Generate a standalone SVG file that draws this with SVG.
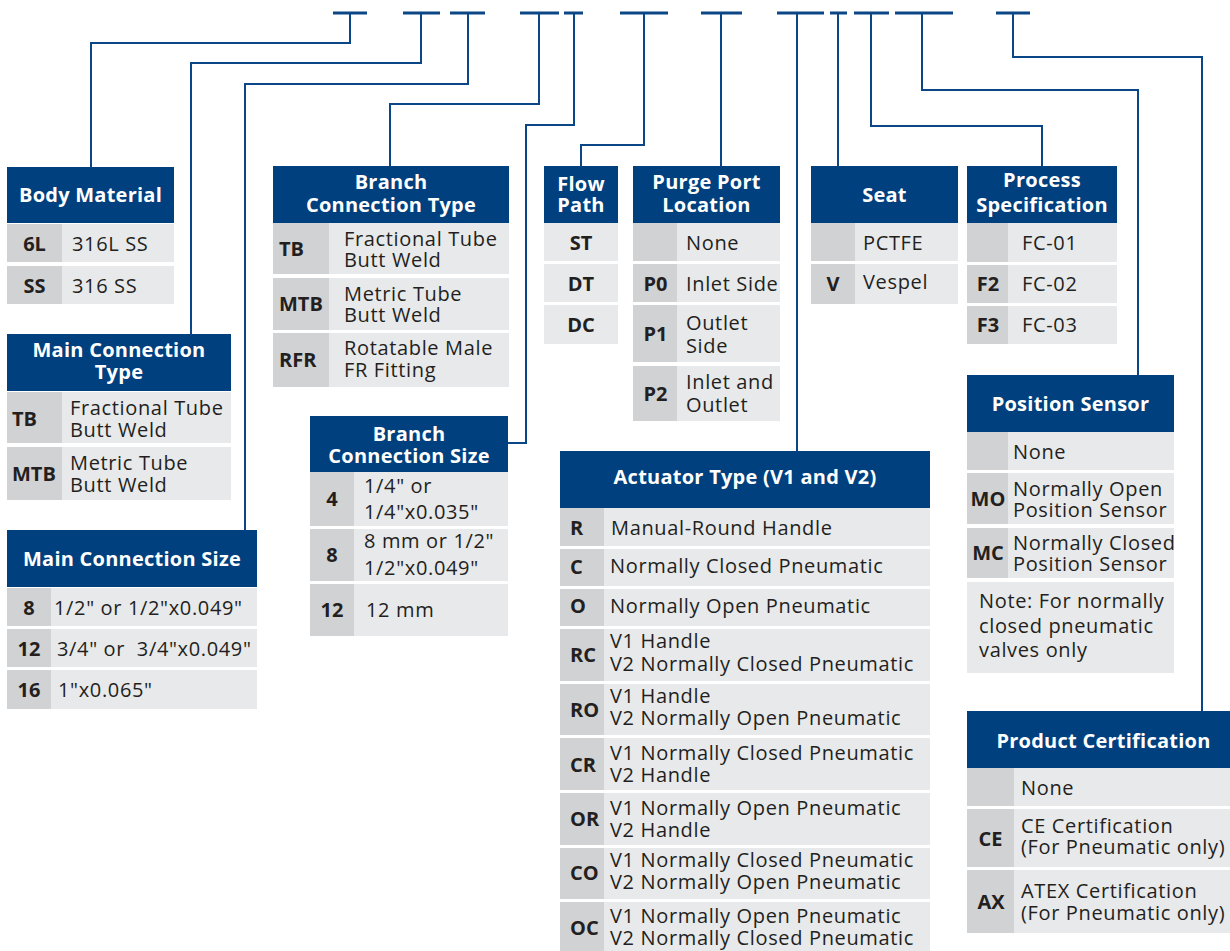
<svg xmlns="http://www.w3.org/2000/svg" width="1230" height="951" viewBox="0 0 1230 951">
<style>
.hd{fill:#00407e}
.kc{fill:#d1d2d4}
.vc{fill:#e8e9eb}
text{font-family:"Open Sans","Noto Sans","DejaVu Sans",sans-serif;font-size:20px}
.h{font-weight:bold;fill:#ffffff;text-anchor:middle;letter-spacing:0.25px}
.k{font-weight:bold;fill:#231f20}
.m{text-anchor:middle}
.v{fill:#231f20;letter-spacing:0.65px}
.ln{fill:none;stroke:#0b4686;stroke-width:2}
.bar{fill:none;stroke:#0b4686;stroke-width:3}
</style>
<rect width="1230" height="951" fill="#ffffff"/>
<g id="connectors">
<path class="bar" d="M333,13H367M403,13H440M450,13H485M520,13H559M564,13H583M620,13H668M701,13H742M777,13H824M830,13H847M854,13H889M895,13H953M996,13H1030"/>
<path class="ln" d="M350,13V43H91V167"/>
<path class="ln" d="M421,13V63H191V334"/>
<path class="ln" d="M468,13V84H245V530"/>
<path class="ln" d="M539,13V104H390V166"/>
<path class="ln" d="M574,13V125H526V443H508"/>
<path class="ln" d="M644,13V145H581V166"/>
<path class="ln" d="M721,13V166"/>
<path class="ln" d="M797,13V451"/>
<path class="ln" d="M838,13V166"/>
<path class="ln" d="M871,13V126H1042V166"/>
<path class="ln" d="M922,13V90H1138V375"/>
<path class="ln" d="M1013,13V57H1202V711"/>
</g>
<g id="body-material">
<rect class="hd" x="7" y="167" width="167" height="56"/>
<text class="h" x="90.5" y="202">Body Material</text>
<rect class="kc" x="7" y="224" width="55" height="38"/><rect class="vc" x="62" y="224" width="112" height="38"/>
<rect class="kc" x="7" y="266" width="55" height="38"/><rect class="vc" x="62" y="266" width="112" height="38"/>
<text class="k m" x="34.5" y="251">6L</text><text class="v" x="72" y="251">316L SS</text>
<text class="k m" x="34.5" y="293">SS</text><text class="v" x="72" y="293">316 SS</text>
</g>
<g id="main-connection-type">
<rect class="hd" x="7" y="334" width="224" height="57"/>
<text class="h" x="119" y="357">Main Connection</text>
<text class="h" x="119" y="379">Type</text>
<rect class="kc" x="7" y="392" width="55" height="51"/><rect class="vc" x="62" y="392" width="169" height="51"/>
<rect class="kc" x="7" y="447" width="55" height="53"/><rect class="vc" x="62" y="447" width="169" height="53"/>
<text class="k" x="12" y="426">TB</text>
<text class="v" x="70" y="415">Fractional Tube</text><text class="v" x="70" y="437">Butt Weld</text>
<text class="k" x="12" y="481">MTB</text>
<text class="v" x="70" y="470">Metric Tube</text><text class="v" x="70" y="492">Butt Weld</text>
</g>
<g id="main-connection-size">
<rect class="hd" x="7" y="530" width="250" height="57"/>
<text class="h" x="132" y="566">Main Connection Size</text>
<rect class="kc" x="7" y="588" width="44" height="38"/><rect class="vc" x="51" y="588" width="206" height="38"/>
<rect class="kc" x="7" y="629" width="44" height="38"/><rect class="vc" x="51" y="629" width="206" height="38"/>
<rect class="kc" x="7" y="670" width="44" height="39"/><rect class="vc" x="51" y="670" width="206" height="39"/>
<text class="k m" x="29" y="615">8</text><text class="v" x="54" y="615">1/2" or 1/2"x0.049"</text>
<text class="k m" x="29" y="656">12</text><text class="v" x="57" y="656">3/4" or&#160; 3/4"x0.049"</text>
<text class="k m" x="29" y="697">16</text><text class="v" x="58" y="697">1"x0.065"</text>
</g>
<g id="branch-connection-type">
<rect class="hd" x="273" y="166" width="236" height="57"/>
<text class="h" x="391" y="189">Branch</text>
<text class="h" x="391" y="212">Connection Type</text>
<rect class="kc" x="273" y="223" width="56" height="51"/><rect class="vc" x="329" y="223" width="180" height="51"/>
<rect class="kc" x="273" y="278" width="56" height="52"/><rect class="vc" x="329" y="278" width="180" height="52"/>
<rect class="kc" x="273" y="333" width="56" height="54"/><rect class="vc" x="329" y="333" width="180" height="54"/>
<text class="k" x="279" y="256">TB</text>
<text class="v" x="344" y="246">Fractional Tube</text><text class="v" x="344" y="267">Butt Weld</text>
<text class="k" x="279" y="311">MTB</text>
<text class="v" x="344" y="301">Metric Tube</text><text class="v" x="344" y="322">Butt Weld</text>
<text class="k" x="279" y="367">RFR</text>
<text class="v" x="344" y="355">Rotatable Male</text><text class="v" x="344" y="377">FR Fitting</text>
</g>
<g id="branch-connection-size">
<rect class="hd" x="310" y="416" width="198" height="56"/>
<text class="h" x="409" y="441">Branch</text>
<text class="h" x="409" y="463">Connection Size</text>
<rect class="kc" x="310" y="472" width="44" height="54"/><rect class="vc" x="354" y="472" width="154" height="54"/>
<rect class="kc" x="310" y="529" width="44" height="52"/><rect class="vc" x="354" y="529" width="154" height="52"/>
<rect class="kc" x="310" y="584" width="44" height="52"/><rect class="vc" x="354" y="584" width="154" height="52"/>
<text class="k m" x="332" y="506">4</text>
<text class="v" x="364" y="493">1/4" or</text><text class="v" x="364" y="519">1/4"x0.035"</text>
<text class="k m" x="332" y="562">8</text>
<text class="v" x="364" y="548">8 mm or 1/2"</text><text class="v" x="364" y="575">1/2"x0.049"</text>
<text class="k m" x="332" y="617">12</text>
<text class="v" x="366" y="617">12 mm</text>
</g>
<g id="flow-path">
<rect class="hd" x="544" y="166" width="74" height="57"/>
<text class="h" x="581" y="191">Flow</text>
<text class="h" x="581" y="212">Path</text>
<rect class="vc" x="544" y="223" width="74" height="38"/>
<rect class="vc" x="544" y="264" width="74" height="38"/>
<rect class="vc" x="544" y="305" width="74" height="39"/>
<text class="k m" x="581" y="250">ST</text>
<text class="k m" x="581" y="291">DT</text>
<text class="k m" x="581" y="332">DC</text>
</g>
<g id="purge-port-location">
<rect class="hd" x="633" y="166" width="147" height="57"/>
<text class="h" x="706.5" y="189">Purge Port</text>
<text class="h" x="706.5" y="212">Location</text>
<rect class="kc" x="633" y="223" width="44" height="38"/><rect class="vc" x="677" y="223" width="103" height="38"/>
<rect class="kc" x="633" y="264" width="44" height="38"/><rect class="vc" x="677" y="264" width="103" height="38"/>
<rect class="kc" x="633" y="305" width="44" height="57"/><rect class="vc" x="677" y="305" width="103" height="57"/>
<rect class="kc" x="633" y="366" width="44" height="55"/><rect class="vc" x="677" y="366" width="103" height="55"/>
<text class="v" x="686" y="250">None</text>
<text class="k m" x="655.5" y="291">P0</text><text class="v" x="686" y="291">Inlet Side</text>
<text class="k m" x="655.5" y="341">P1</text>
<text class="v" x="686" y="330">Outlet</text><text class="v" x="686" y="353">Side</text>
<text class="k m" x="655.5" y="401">P2</text>
<text class="v" x="686" y="389">Inlet and</text><text class="v" x="686" y="412">Outlet</text>
</g>
<g id="seat">
<rect class="hd" x="811" y="166" width="147" height="57"/>
<text class="h" x="884.5" y="202">Seat</text>
<rect class="kc" x="811" y="223" width="44" height="38"/><rect class="vc" x="855" y="223" width="103" height="38"/>
<rect class="kc" x="811" y="264" width="44" height="40"/><rect class="vc" x="855" y="264" width="103" height="40"/>
<text class="v" x="863" y="250">PCTFE</text>
<text class="k m" x="833" y="291">V</text><text class="v" x="863" y="289">Vespel</text>
</g>
<g id="process-specification">
<rect class="hd" x="967" y="166" width="150" height="57"/>
<text class="h" x="1042" y="187">Process</text>
<text class="h" x="1042" y="212">Specification</text>
<rect class="kc" x="967" y="223" width="41" height="39"/><rect class="vc" x="1008" y="223" width="109" height="39"/>
<rect class="kc" x="967" y="265" width="41" height="38"/><rect class="vc" x="1008" y="265" width="109" height="38"/>
<rect class="kc" x="967" y="306" width="41" height="38"/><rect class="vc" x="1008" y="306" width="109" height="38"/>
<text class="v" x="1022" y="250">FC-01</text>
<text class="k m" x="988" y="291">F2</text><text class="v" x="1022" y="291">FC-02</text>
<text class="k m" x="988" y="332">F3</text><text class="v" x="1022" y="332">FC-03</text>
</g>
<g id="position-sensor">
<rect class="hd" x="967" y="375" width="207" height="57"/>
<text class="h" x="1070.5" y="411">Position Sensor</text>
<rect class="kc" x="967" y="432" width="41" height="38"/><rect class="vc" x="1008" y="432" width="166" height="38"/>
<rect class="kc" x="967" y="473" width="41" height="51"/><rect class="vc" x="1008" y="473" width="166" height="51"/>
<rect class="kc" x="967" y="528" width="41" height="50"/><rect class="vc" x="1008" y="528" width="166" height="50"/>
<rect class="vc" x="967" y="582" width="207" height="91"/>
<text class="v" x="1013" y="459">None</text>
<text class="k m" x="988" y="506">MO</text>
<text class="v" x="1013" y="496">Normally Open</text><text class="v" x="1013" y="517">Position Sensor</text>
<text class="k m" x="988" y="560">MC</text>
<text class="v" x="1013" y="550">Normally Closed</text><text class="v" x="1013" y="571">Position Sensor</text>
<text class="v" x="979" y="608">Note: For normally</text>
<text class="v" x="979" y="633">closed pneumatic</text>
<text class="v" x="979" y="657">valves only</text>
</g>
<g id="actuator-type">
<rect class="hd" x="560" y="451" width="370" height="57"/>
<text class="h" x="745" y="484">Actuator Type (V1 and V2)</text>
<rect class="kc" x="560" y="508" width="44" height="38"/><rect class="vc" x="604" y="508" width="326" height="38"/>
<rect class="kc" x="560" y="549" width="44" height="37"/><rect class="vc" x="604" y="549" width="326" height="37"/>
<rect class="kc" x="560" y="589" width="44" height="37"/><rect class="vc" x="604" y="589" width="326" height="37"/>
<rect class="kc" x="560" y="629" width="44" height="52"/><rect class="vc" x="604" y="629" width="326" height="52"/>
<rect class="kc" x="560" y="684" width="44" height="51"/><rect class="vc" x="604" y="684" width="326" height="51"/>
<rect class="kc" x="560" y="738" width="44" height="52"/><rect class="vc" x="604" y="738" width="326" height="52"/>
<rect class="kc" x="560" y="793" width="44" height="52"/><rect class="vc" x="604" y="793" width="326" height="52"/>
<rect class="kc" x="560" y="848" width="44" height="51"/><rect class="vc" x="604" y="848" width="326" height="51"/>
<rect class="kc" x="560" y="902" width="44" height="52"/><rect class="vc" x="604" y="902" width="326" height="52"/>
<text class="k" x="570" y="535">R</text><text class="v" x="611" y="535">Manual-Round Handle</text>
<text class="k" x="570" y="574">C</text><text class="v" x="610" y="573">Normally Closed Pneumatic</text>
<text class="k" x="570" y="613">O</text><text class="v" x="610" y="613">Normally Open Pneumatic</text>
<text class="k" x="570" y="662">RC</text><text class="v" x="610" y="648">V1 Handle</text><text class="v" x="610" y="671">V2 Normally Closed Pneumatic</text>
<text class="k" x="570" y="717">RO</text><text class="v" x="610" y="703">V1 Handle</text><text class="v" x="610" y="725">V2 Normally Open Pneumatic</text>
<text class="k" x="570" y="772">CR</text><text class="v" x="610" y="760">V1 Normally Closed Pneumatic</text><text class="v" x="610" y="782">V2 Handle</text>
<text class="k" x="570" y="826">OR</text><text class="v" x="610" y="815">V1 Normally Open Pneumatic</text><text class="v" x="610" y="837">V2 Handle</text>
<text class="k" x="570" y="880">CO</text><text class="v" x="610" y="867">V1 Normally Closed Pneumatic</text><text class="v" x="610" y="889">V2 Normally Open Pneumatic</text>
<text class="k" x="570" y="935">OC</text><text class="v" x="610" y="923">V1 Normally Open Pneumatic</text><text class="v" x="610" y="945">V2 Normally Closed Pneumatic</text>
</g>
<g id="product-certification">
<rect class="hd" x="967" y="711" width="273" height="57"/>
<text class="h" x="1103.5" y="748">Product Certification</text>
<rect class="kc" x="967" y="768" width="47" height="38"/><rect class="vc" x="1014" y="768" width="226" height="38"/>
<rect class="kc" x="967" y="809" width="47" height="58"/><rect class="vc" x="1014" y="809" width="226" height="58"/>
<rect class="kc" x="967" y="870" width="47" height="63"/><rect class="vc" x="1014" y="870" width="226" height="63"/>
<text class="v" x="1021" y="795">None</text>
<text class="k m" x="990.5" y="846">CE</text>
<text class="v" x="1021" y="833">CE Certification</text><text class="v" x="1021" y="854">(For Pneumatic only)</text>
<text class="k m" x="991" y="909">AX</text>
<text class="v" x="1021" y="898">ATEX Certification</text><text class="v" x="1021" y="920">(For Pneumatic only)</text>
</g>
</svg>
